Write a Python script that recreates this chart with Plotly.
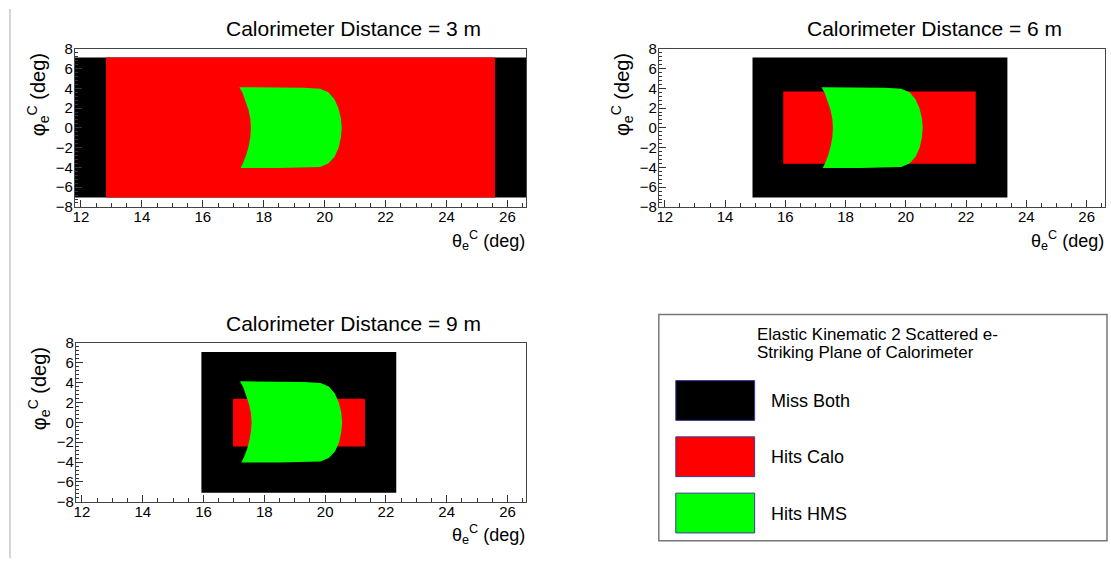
import plotly.graph_objects as go

W, H = 1111, 571
FONT = "Liberation Sans, Arial, Helvetica, sans-serif"

# ---------------- data ----------------
panel_titles = ["Calorimeter Distance = 3 m",
                "Calorimeter Distance = 6 m",
                "Calorimeter Distance = 9 m"]
categories = ["Miss Both", "Hits Calo", "Hits HMS"]
cat_colors = ["#000000", "#ff0000", "#00ff00"]

# region extents (theta in deg, phi in deg) per calorimeter distance
miss_theta = [[11.80, 26.61], [14.91, 23.37], [15.93, 22.34]]
miss_phi = [[-7.05, 7.12], [-7.05, 7.12], [-7.07, 7.08]]
calo_theta = [[12.82, 25.59], [15.93, 22.32], [16.97, 21.31]]
calo_phi = [[-7.05, 7.12], [-3.64, 3.68], [-2.43, 2.37]]

# HMS acceptance boundary (same in all panels)
hms_theta = [17.20, 17.70, 18.50, 19.30, 19.85, 20.12, 20.32, 20.45, 20.53, 20.56,
             20.53, 20.46, 20.33, 20.12, 19.85, 19.30, 18.50, 17.70, 17.24, 17.33,
             17.43, 17.51, 17.56, 17.58, 17.56, 17.50, 17.41, 17.31, 17.20]
hms_phi = [4.12, 4.12, 4.10, 4.05, 3.95, 3.60, 2.90, 2.00, 1.00, 0.00,
           -1.00, -2.00, -2.90, -3.60, -3.95, -4.02, -4.05, -4.05, -4.05, -3.50,
           -2.70, -1.80, -0.90, 0.00, 0.90, 1.80, 2.70, 3.50, 4.12]

x_range = [11.80, 26.61]
y_range = [-8, 8]
x_title = "θ<sub>e</sub><sup>C</sup> (deg)"
y_title = "φ<sub>e</sub><sup>C</sup> (deg)"
legend_header = ["Elastic Kinematic 2 Scattered e-", "Striking Plane of Calorimeter"]

# ---------------- layout geometry (pixels) ----------------
# (left, right, top, bottom, title_y, xtitle_y)
frames = [(73, 525, 41, 204, 20, 239),
          (658, 1105, 41, 204, 20, 239),
          (74, 525, 344, 508, 324, 542)]


def rect_path(xr, yr):
    return [xr[0], xr[1], xr[1], xr[0], xr[0]], [yr[0], yr[0], yr[1], yr[1], yr[0]]


fig = go.Figure()
for i in range(3):
    suffix = "" if i == 0 else str(i + 1)
    xa, ya = "x" + suffix, "y" + suffix
    regions = [rect_path(miss_theta[i], miss_phi[i]),
               rect_path(calo_theta[i], calo_phi[i]),
               (hms_theta, hms_phi)]
    for (xs, ys), name, col in zip(regions, categories, cat_colors):
        fig.add_trace(go.Scatter(x=xs, y=ys, mode="lines", fill="toself",
                                 fillcolor=col, line=dict(width=0, color=col),
                                 name=name, showlegend=False, hoverinfo="skip",
                                 xaxis=xa, yaxis=ya))

annotations = []
shapes = []
for i, (x0, x1, t, b, ty, xty) in enumerate(frames):
    suffix = "" if i == 0 else str(i + 1)
    common = dict(showgrid=False, zeroline=False, showline=True, linecolor="#444",
                  linewidth=1, mirror=True, ticks="inside", ticklen=7,
                  tickcolor="#333", tickwidth=1,
                  tickfont=dict(family=FONT, size=15, color="black"))
    fig.layout["xaxis" + suffix] = dict(
        domain=[x0 / W, x1 / W], range=x_range, tick0=12, dtick=2,
        anchor="y" + suffix, ticklabelstandoff=-4,
        minor=dict(dtick=0.5, tick0=12, ticks="inside", ticklen=3.5,
                   tickcolor="#333"),
        **common)
    fig.layout["yaxis" + suffix] = dict(
        domain=[1 - b / H, 1 - t / H], range=y_range, tick0=0, dtick=2,
        anchor="x" + suffix, ticklabelstandoff=-2,
        minor=dict(dtick=0.4, tick0=0, ticks="inside", ticklen=3.5,
                   tickcolor="#333"),
        **common)
    # panel title
    cx = (x0 + x1) / 2 + 53
    annotations.append(dict(text=panel_titles[i], x=cx / W, y=1 - ty / H,
                            xref="paper", yref="paper", showarrow=False,
                            xanchor="center", yanchor="middle",
                            font=dict(family=FONT, size=21, color="black")))
    # x title (right aligned)
    annotations.append(dict(text=x_title, x=(x1 + 1) / W, y=1 - xty / H,
                            xref="paper", yref="paper", showarrow=False,
                            xanchor="right", yanchor="middle",
                            font=dict(family=FONT, size=18, color="black")))
    # y title (rotated, top aligned)
    annotations.append(dict(text=y_title, x=(x0 - 37) / W, y=1 - (t + 2) / H,
                            xref="paper", yref="paper", showarrow=False,
                            textangle=-90, xanchor="center", yanchor="top",
                            font=dict(family=FONT, size=20, color="black")))

# left border line
shapes.append(dict(type="line", xref="paper", yref="paper",
                   x0=8 / W, x1=8 / W, y0=1 - 0 / H, y1=1 - 566 / H,
                   line=dict(color="#aaa", width=1)))

# legend box
lx0, lx1, ly0, ly1 = 658, 1107, 315, 548
shapes.append(dict(type="rect", xref="paper", yref="paper",
                   x0=lx0 / W, x1=lx1 / W, y0=1 - ly1 / H, y1=1 - ly0 / H,
                   line=dict(color="#777", width=1.5), fillcolor="white"))
for j, line in enumerate(legend_header):
    annotations.append(dict(text=line, x=754 / W, y=1 - (335 + 19 * j) / H,
                            xref="paper", yref="paper", showarrow=False,
                            xanchor="left", yanchor="middle",
                            font=dict(family=FONT, size=17, color="black")))
sw_top = [383, 441, 499]
for j, (name, col) in enumerate(zip(categories, cat_colors)):
    shapes.append(dict(type="rect", xref="paper", yref="paper",
                       x0=675 / W, x1=754 / W,
                       y0=1 - (sw_top[j] + 41) / H, y1=1 - sw_top[j] / H,
                       fillcolor=col, line=dict(color="#3a3a9a", width=1)))
    annotations.append(dict(text=name, x=768 / W, y=1 - (sw_top[j] + 21) / H,
                            xref="paper", yref="paper", showarrow=False,
                            xanchor="left", yanchor="middle",
                            font=dict(family=FONT, size=18, color="black")))

fig.update_layout(width=W, height=H, margin=dict(l=0, r=0, t=0, b=0),
                  paper_bgcolor="white", plot_bgcolor="white",
                  annotations=annotations, shapes=shapes, showlegend=False)

fig.write_html("out.html", config={"displayModeBar": False},
               post_script="document.body.style.margin='0px';"
                           "document.body.style.overflow='hidden';")
